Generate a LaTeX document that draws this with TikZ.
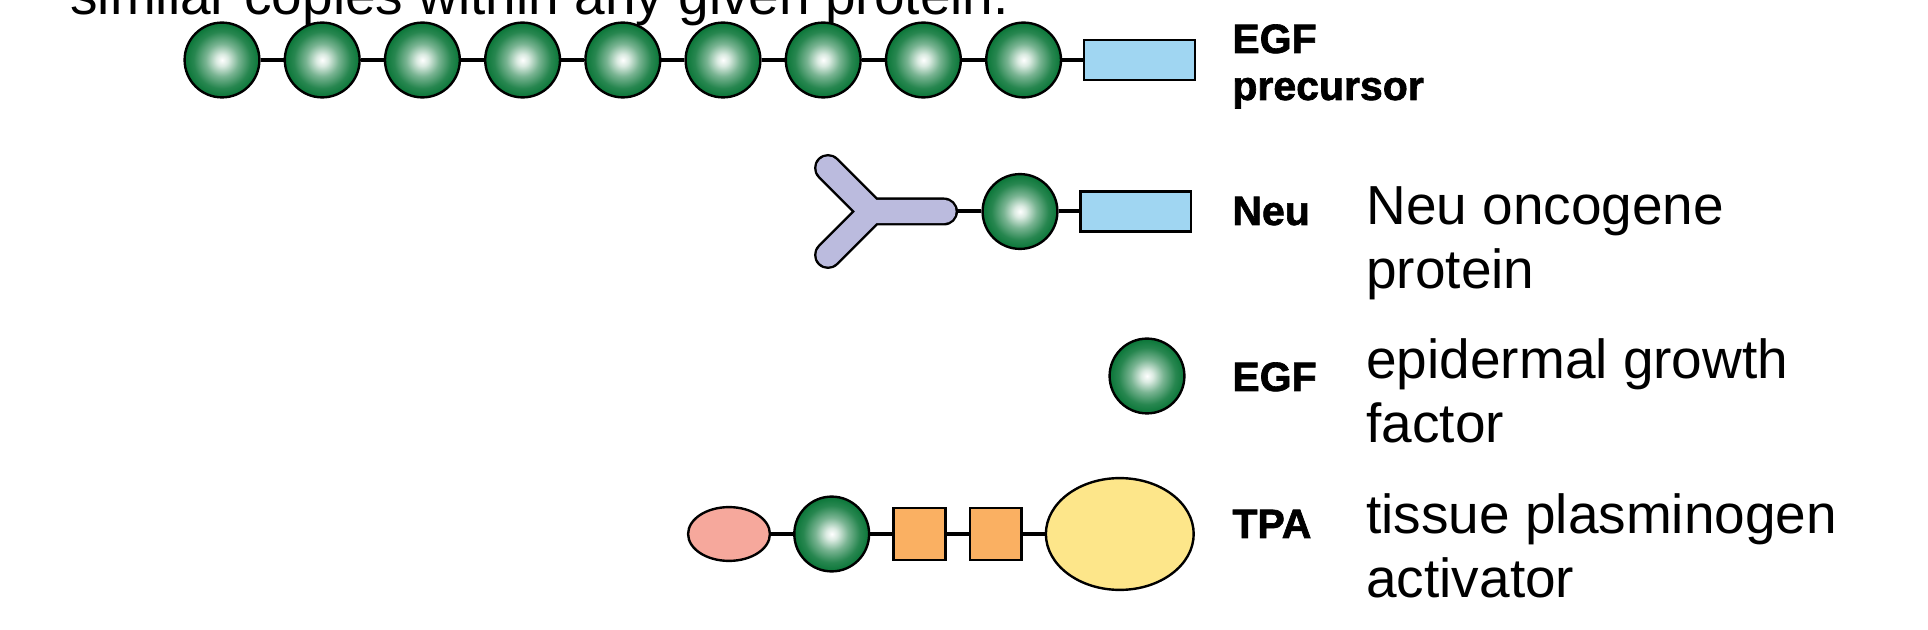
\documentclass[tikz,border=0pt]{standalone}
\usepackage{fontspec}
\setmainfont{Liberation Sans}
\newfontfamily\tagfont[BoldFeatures={FakeBold=1.6}]{Liberation Sans}
\usepackage{xcolor}
\usepackage{tikz}
\usetikzlibrary{positioning, shapes.geometric}

\definecolor{beadgreen}{RGB}{10,118,56}
\definecolor{tailblue}{RGB}{160,214,242}
\definecolor{armviolet}{RGB}{187,187,222}
\definecolor{finpink}{RGB}{246,168,156}
\definecolor{kringleorange}{RGB}{250,176,98}
\definecolor{proteaseyellow}{RGB}{253,230,138}

\pgfdeclareradialshading{beadshade}{\pgfpoint{0bp}{0bp}}{color(0bp)=(white); color(4bp)=(white!85!beadgreen); color(11bp)=(white!45!beadgreen); color(19bp)=(white!12!beadgreen); color(25bp)=(beadgreen); color(50bp)=(beadgreen)}

\begin{document}
\begin{tikzpicture}[
    x=0.5pt, y=-0.5pt,
    node distance=11pt,
    bead/.style={circle, minimum size=37.4pt, inner sep=0pt, draw=black, line width=1.2pt, shading=beadshade},
    tail/.style={rectangle, minimum width=55.4pt, minimum height=19.9pt, inner sep=0pt, draw=black, line width=1.2pt, fill=tailblue},
    fin/.style={ellipse, minimum width=40.9pt, minimum height=26.9pt, inner sep=0pt, draw=black, line width=1.2pt, fill=finpink},
    kringle/.style={rectangle, minimum size=25.9pt, inner sep=0pt, draw=black, line width=1.2pt, fill=kringleorange},
    protease/.style={ellipse, minimum width=73.9pt, minimum height=55.9pt, inner sep=0pt, draw=black, line width=1.2pt, fill=proteaseyellow},
    armedge/.style={draw=black, line width=14pt, line cap=round, line join=round},
    armfill/.style={draw=armviolet, line width=11.6pt, line cap=round, line join=round},
    link/.style={draw=black, line width=2pt},
    tag/.style={anchor=base west, align=left, inner sep=0pt, font=\tagfont\bfseries\fontsize{20.5}{23.5}\selectfont},
    desc/.style={anchor=base west, align=left, inner sep=0pt, font=\fontsize{27.5}{32}\selectfont}
]
    \useasboundingbox (0,0) rectangle (1928,630);
    \clip (0,0) rectangle (1928,630);

    \node[desc] (caption) at (70,15) {similar copies within any given protein.};

    % EGF precursor
    \node[bead] (pre1) at (222,60) {};
    \foreach \i [remember=\i as \prev (initially 1)] in {2,...,9}
        \node[bead, right=11.5pt of pre\prev] (pre\i) {};
    \node[tail, right=10.3pt of pre9] (pre_tail) {};
    \node[tag] (pre_tag) at (1232,100) {EGF\\precursor};

    % Neu
    \node[bead] (neu_egf) at (1020,211.5) {};
    \node[tail, right=10.3pt of neu_egf] (neu_tail) {};
    \draw[armedge] (828,168) -- (871.5,211.5) -- (828,255) (871.5,211.5) -- (944,211.5);
    \draw[armfill] (828,168) -- (871.5,211.5) -- (828,255) (871.5,211.5) -- (944,211.5);
    \coordinate (neu_stem) at (958,211.5);
    \node[tag] (neu_tag) at (1232,225) {Neu};
    \node[desc] (neu_desc) at (1366,289) {Neu oncogene\\protein};

    % EGF
    \node[bead] (egf) at (1147,376) {};
    \node[tag] (egf_tag) at (1232,391) {EGF};
    \node[desc] (egf_desc) at (1366,443) {epidermal growth\\factor};

    % TPA
    \node[fin] (tpa_fin) at (729,534) {};
    \node[bead, right=of tpa_fin] (tpa_egf) {};
    \node[kringle, right=of tpa_egf] (tpa_k1) {};
    \node[kringle, right=of tpa_k1] (tpa_k2) {};
    \node[protease, right=of tpa_k2] (tpa_prot) {};
    \node[tag] (tpa_tag) at (1232,538) {TPA};
    \node[desc] (tpa_desc) at (1366,597) {tissue plasminogen\\activator};

    % Connectors
    \foreach \i [remember=\i as \prev (initially 1)] in {2,...,9}
        \draw[link] (pre\prev) -- (pre\i);
    \draw[link] (pre9) -- (pre_tail);
    \draw[link] (neu_stem) -- (neu_egf);
    \draw[link] (neu_egf) -- (neu_tail);
    \draw[link] (tpa_fin) -- (tpa_egf);
    \draw[link] (tpa_egf) -- (tpa_k1);
    \draw[link] (tpa_k1) -- (tpa_k2);
    \draw[link] (tpa_k2) -- (tpa_prot);
\end{tikzpicture}
\end{document}
